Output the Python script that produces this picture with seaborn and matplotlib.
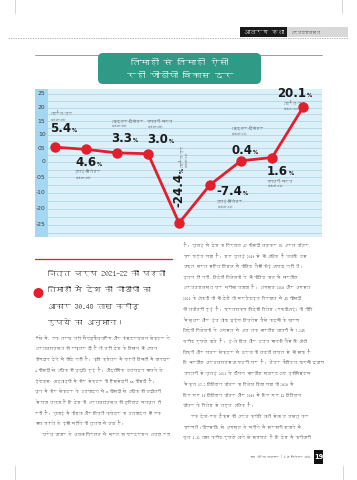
import numpy as np
import matplotlib
matplotlib.use('Agg')
import matplotlib.pyplot as plt
import seaborn as sns
from matplotlib import font_manager
from matplotlib.patches import Rectangle, FancyBboxPatch, Circle
from matplotlib.lines import Line2D
from matplotlib.transforms import IdentityTransform, blended_transform_factory

# quarter-on-quarter GDP growth (%)
quarters = ['अप्रैल-जून', 'जुलाई-सितंबर', 'अक्टूबर-दिसंबर', 'जनवरी-मार्च',
            'अप्रैल-जून', 'जुलाई-सितंबर', 'अक्टूबर-दिसंबर', 'जनवरी-मार्च',
            'अप्रैल-जून']
years = ['(2019-20)', '(2019-20)', '(2019-20)', '(2019-20)',
         '(2020-21)', '(2020-21)', '(2020-21)', '(2020-21)', '(2021-22)']
growth = [5.4, 4.6, 3.3, 3.0, -24.4, -7.4, 0.4, 1.6, 20.1]

ytick_vals = [25, 20, 15, 10, 5, 0, -5, -10, -20, -25]
ytick_labels = ['25', '20', '15', '10', '05', '0', '-05', '-10', '-20', '-25']

title_lines = ['तिमाही से तिमाही ऐसी', 'रही जीडीपी विकास दर']
quote_lines = ['वित्त वर्ष 2021–22 की पहली', 'तिमाही में देश की जीडीपी का',
               'आकार 30.48 लाख करोड़', 'रुपये का अनुमान।']
left_col = [
    'ऐसे में, एक तरफ जहां मैन्युफैक्चरिंग और कंस्ट्रक्शन सेक्टर ने',
    'अर्थव्यवस्था को रफ्तार दी है तो वहीं देश के किसान भी अपना',
    'योगदान देने में पीछे नहीं हैं। कृषि क्षेत्र में पहली तिमाही में शानदार',
    '4 फीसदी से अधिक की वृद्धि हुई है। औद्योगिक उत्पादन मापने के',
    'इंडेक्स- आइआइपी में कोर सेक्टर की हिस्सेदारी 38 फीसदी है।',
    'जून में कोर सेक्टर के उत्पादन में 8 फीसदी से अधिक की बढ़ोतरी',
    'से पता चलता है कि देश की अर्थव्यवस्था की बुनियाद मजबूत हो',
    'रही है। जुलाई में कोयला और बिजली क्षेत्र का उत्पादन भी एक',
    'साल पहले के इसी महीने की तुलना में बढ़ा है।',
    '    घरेलू बाजार के अलावा निर्यात में भारत का प्रदर्शन अच्छा रहा',
]
right_col = [
    'है। जुलाई में देश का निर्यात 47 फीसदी बढ़कर 35 अरब डॉलर',
    'पर पहुंच गया है। यह जुलाई 2019 से भी अधिक है जबकि उस',
    'वक्त भारत सहित विश्व में कोविड जैसी कोई आपदा नहीं थी।',
    'इतना ही नहीं, विदेशी निवेशकों ने भी कोविड काल में भारतीय',
    'अर्थव्यवस्था पर भरोसा जताया है। अगस्त 2020 और अगस्त',
    '2021 के आंकड़ों को भी देखें तो मर्चेंडाइज निर्यात में 45 फीसदी',
    'की बढ़ोतरी हुई है। प्रत्यक्ष विदेशी निवेश (एफडीआई) की नीति',
    'में सुधार और ईज ऑफ डूइंग बिजनेस जैसे कदमों के कारण',
    'विदेशी निवेशकों ने अगस्त में अब तक भारतीय बाजारों में 7,245',
    'करोड़ रुपये डाले हैं। ई-वे बिल और उच्च मानकों जैसे कि ऑटो',
    'बिक्री और पावर सेक्टर में ऊर्जा की बढ़ती खपत से भी साफ है',
    'कि भारतीय अर्थव्यवस्था पटरी पर है। वेंचर कैपिटल फर्मों द्वारा',
    'जनवरी से जुलाई 2021 के दौरान भारतीय स्टार्टअप इकोसिस्टम',
    'में कुल 17.2 बिलियन डॉलर का निवेश किया गया जो 2020 में',
    'किए गए 11 बिलियन डॉलर और 2019 में किए गए 13 बिलियन',
    'डॉलर के निवेश से बहुत अधिक है।',
    '    एक देश-एक टैक्स की अर्थ क्रांति वाली सेवा व वस्तु कर',
    'प्रणाली (जीएसटी) से अगस्त के महीने में सरकारी खजाने में',
    'कुल 1.12 लाख करोड़ रुपये आने से स्पष्ट है कि देश में कारोबारी',
]

RED = '#e31e2d'
W, H = 357, 480


def devanagari_family():
    # look for any installed font that carries Devanagari glyphs
    try:
        from fontTools.ttLib import TTFont
    except ImportError:
        return None
    for f in font_manager.fontManager.ttflist:
        try:
            cmap = TTFont(f.fname, fontNumber=0, lazy=True).getBestCmap()
        except Exception:
            continue
        if cmap and 0x0915 in cmap:
            return f.name
    return None


sns.set_theme(style='white')
deva = devanagari_family()
text_fam = [deva, 'DejaVu Sans'] if deva else ['DejaVu Sans']
num_fam = ['Liberation Sans Narrow', 'DejaVu Sans']
plt.rcParams['font.family'] = text_fam

fig = plt.figure(figsize=(W / 100, H / 100), dpi=100)
px = IdentityTransform()
renderer = fig.canvas.get_renderer()


def ptext(x, y, s, **kw):
    # text placed in page pixels (origin top-left)
    return fig.text(x / W, 1 - y / H, s, **kw)


def pline(xs, ys, **kw):
    fig.add_artist(Line2D(xs, [H - y for y in ys], transform=px, **kw))


def prect(x, y, w, h, **kw):
    fig.add_artist(Rectangle((x, H - y - h), w, h, transform=px, **kw))


def shrink_to(artists, maxw, vertical=False):
    # one common font size so that the widest text fits maxw pixels
    ext = [a.get_window_extent(renderer=renderer) for a in artists]
    w = max(e.height if vertical else e.width for e in ext)
    if w > maxw:
        for a in artists:
            a.set_fontsize(a.get_fontsize() * maxw / w)


# --- page header ---
pline([15, 15], [0, 13], color='#cfcfcf', lw=0.6)
pline([342, 342], [0, 13], color='#cfcfcf', lw=0.6)
pline([8, 348], [37.5, 37.5], color='#9a9a9a', lw=0.5, ls=(0, (2, 1.5)))
prect(240, 27, 47, 10, fc='#1a1a1a', ec='none')
prect(287, 27, 61, 10, fc='#d8d8d8', ec='none')
h1 = ptext(263.5, 32.5, 'आवरण कथा', color='white', fontsize=4.6,
           fontweight='bold', ha='center', va='center')
h2 = ptext(291, 32.5, 'अर्थव्यवस्था', color='#222222', fontsize=4.6,
           ha='left', va='center')
shrink_to([h1], 40)
shrink_to([h2], 30)

# --- chart title box ---
pline([35, 322], [55, 55], color='#8a8a8a', lw=0.6)
fig.add_artist(FancyBboxPatch((98, H - 84), 163, 31,
                              boxstyle='round,pad=0,rounding_size=5',
                              fc='#2f9a85', ec='none', transform=px, zorder=3))
tt = [ptext(180, 62.5, title_lines[0], color='white', fontsize=8.5,
            fontweight='bold', ha='center', va='center', zorder=4),
      ptext(180, 76, title_lines[1], color='white', fontsize=8.5,
            fontweight='bold', ha='center', va='center', zorder=4)]
shrink_to(tt, 106)

# --- chart ---
ax = fig.add_axes([35 / W, 1 - 237 / H, 287 / W, 148 / H])
ax.set_facecolor('#dcf0fa')

# the printed axis is not linear: below zero the steps are wider and
# the -10 .. -20 step is squeezed, so use a piecewise-linear scale
knot_val = [-40, -25, -20, -10, 0, 25, 40]
knot_pos = [-41.0, -23.2, -17.3, -11.4, 0.0, 25.0, 40.1]


def fwd(y):
    return np.interp(y, knot_val, knot_pos)


def inv(v):
    return np.interp(v, knot_pos, knot_val)


ax.set_yscale('function', functions=(fwd, inv))

x = np.arange(len(growth))
sns.lineplot(x=x, y=growth, ax=ax, color=RED, lw=2.0, marker='o',
             markersize=7.5, markeredgewidth=0, zorder=4)

ax.set_xlim(-0.645, 8.61)
ax.set_ylim(-28.75, 26.8)
ax.set_xticks([])
ax.set_yticks(ytick_vals, [''] * len(ytick_vals))
srt = sorted(ytick_vals)
minor = [(a + b) / 2 for a, b in zip(srt[:-1], srt[1:])] + [-27.5]
ax.set_yticks(minor, minor=True)
ax.grid(True, axis='y', which='both', color='#a9cfe2', lw=0.5)
ax.tick_params(axis='y', which='both', length=0)
ax.set_xlabel('')
ax.set_ylabel('')
for s in ax.spines.values():
    s.set_visible(False)
ax.add_patch(Rectangle((0, 0), 13 / 287, 1, transform=ax.transAxes,
                       fc='#a4d7f1', ec='none', zorder=1))
# tick labels sit inside the darker strip
strip_tr = blended_transform_factory(ax.transAxes, ax.transData)
for v, lab in zip(ytick_vals, ytick_labels):
    ax.text(10.5 / 287, v, lab, transform=strip_tr, ha='right', va='center',
            fontsize=4.3, family=num_fam, color='#3c3c3c', zorder=5)

# label offsets in pixels from each point: (value dx, dy), (period dx, dy)
val_off = [(-5, 15), (-11, -17), (-6, 11), (-1, 11), (0, 16),
           (6, -10), (-10, 7), (-5, -17), (-26, 10)]
per_off = [(-5, 36), (-11, -20), (-6, 35), (-1, 35), (4, 56),
           (7, -14), (-10, 35), (-5, -21), (-20, 7)]

flat_periods, rot_periods = [], []
for i, v in enumerate(growth):
    vdx, vdy = val_off[i]
    pdx, pdy = per_off[i]
    if v < -20:
        t = ax.annotate(f'{v}', xy=(i, v), xytext=(vdx, vdy),
                        textcoords='offset pixels', rotation=90,
                        ha='center', va='bottom', fontsize=8.5,
                        fontweight='bold', family=num_fam, color='#1a1a1a')
        bb = t.get_window_extent(renderer=renderer)
        ax.annotate('%', xy=(bb.x1 - 1, bb.y1), xycoords='figure pixels',
                    rotation=90, ha='right', va='bottom', fontsize=3.8,
                    fontweight='bold', family=num_fam, color='#1a1a1a')
        p = ax.annotate(f'{quarters[i]}\n{years[i]}', xy=(i, v),
                        xytext=(pdx, pdy), textcoords='offset pixels',
                        rotation=90, ha='center', va='bottom', fontsize=3.5,
                        linespacing=1.2, color='#333333', multialignment='left')
        rot_periods.append(p)
    else:
        t = ax.annotate(f'{v}', xy=(i, v), xytext=(vdx, vdy),
                        textcoords='offset pixels', ha='left', va='baseline',
                        fontsize=8.5, fontweight='bold', family=num_fam,
                        color='#1a1a1a')
        bb = t.get_window_extent(renderer=renderer)
        base = ax.transData.transform((i, v))[1] + vdy
        ax.annotate('%', xy=(bb.x1 + 0.5, base), xycoords='figure pixels',
                    ha='left', va='baseline', fontsize=3.8, fontweight='bold',
                    family=num_fam, color='#1a1a1a')
        p = ax.annotate(f'{quarters[i]}\n{years[i]}', xy=(i, v),
                        xytext=(pdx, pdy), textcoords='offset pixels',
                        ha='left', va='top', fontsize=3.5, linespacing=1.2,
                        color='#333333')
        flat_periods.append(p)
shrink_to(flat_periods, 33)
for p in rot_periods:
    p.set_fontsize(flat_periods[0].get_fontsize())

# --- highlighted quote ---
pline([35, 172], [259, 259], color=RED, lw=0.9)
fig.add_artist(Circle((38.5, H - 293), 5, transform=px, fc=RED, ec='none'))
qt = [ptext(48, 273 + k * 16.5, line, fontsize=8, color='#1f1f1f',
            ha='left', va='center') for k, line in enumerate(quote_lines)]
shrink_to(qt, 118)

# --- body text columns ---
lt = [ptext(35, 338 + k * 10.7, line, fontsize=4.2, color='#262626',
            ha='left', va='center') for k, line in enumerate(left_col)]
rt = [ptext(183, 245 + k * 10.7, line, fontsize=4.2, color='#262626',
            ha='left', va='center') for k, line in enumerate(right_col)]
shrink_to(lt, 137)
shrink_to(rt, 139)

# --- footer ---
ft = ptext(311, 457, 'न्यू इंडिया समाचार | 1-15 सितंबर 2021', fontsize=3.6,
           color='#333333', ha='right', va='center')
shrink_to([ft], 62)
prect(314, 450, 9, 14, fc='#111111', ec='none')
ptext(318.5, 457, '19', color='white', fontsize=4.8, fontweight='bold',
      ha='center', va='center', family=num_fam)
pline([15, 15], [466, 480], color='#cfcfcf', lw=0.6)
pline([343, 343], [466, 480], color='#cfcfcf', lw=0.6)

fig.savefig('out.png', dpi=100, facecolor='white')
